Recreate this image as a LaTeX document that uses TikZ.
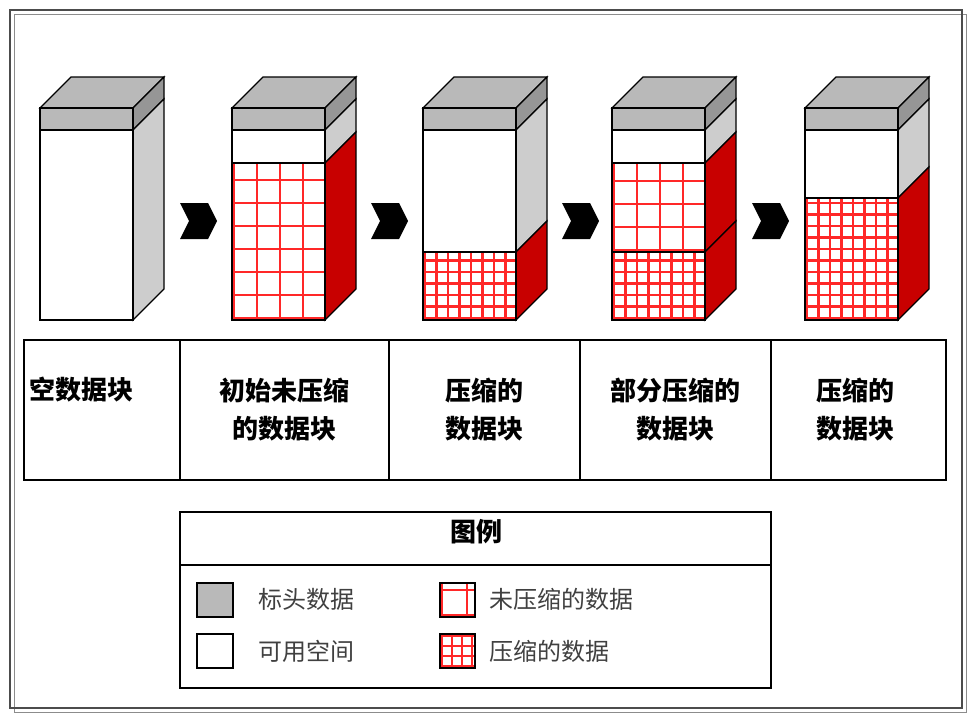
\documentclass[tikz,border=0pt]{standalone}
\usepackage{fontspec}
\setmainfont{Noto Sans CJK SC}
\definecolor{hdr}{RGB}{185,185,185}
\definecolor{hdrside}{RGB}{150,150,150}
\definecolor{sidegray}{RGB}{205,205,205}
\definecolor{sred}{RGB}{200,0,0}
\definecolor{gridred}{RGB}{255,40,40}
\newcommand\gridfill[6]{% x1 y1 x2 y2 step width
  \begin{scope}
  \clip (#1,#2) rectangle (#3,#4);
  \fill[white] (#1,#2) rectangle (#3,#4);
  \foreach \k in {0,...,20}{
    \draw[gridred,line width=#6] ({#1+2+\k*#5},#2) -- ({#1+2+\k*#5},#4);
    \draw[gridred,line width=#6] (#1,{#4-2-\k*#5}) -- (#3,{#4-2-\k*#5});
  }
  \end{scope}}
\newcommand\sideface[4]{% x y1 y2 color
  \filldraw[fill=#4,draw=black,line width=1.2] (#1+93,#2) -- (#1+124,#2-31) -- (#1+124,#3-31) -- (#1+93,#3) -- cycle;}
\newcommand\blk[3]{% x, white end, compressed start
  \def\bx{#1}
  \filldraw[fill=hdr,line width=1.2] (\bx,108) -- (\bx+31,77) -- (\bx+124,77) -- (\bx+93,108) -- cycle;
  \sideface{\bx}{108}{130}{hdrside}
  \fill[hdr] (\bx,108) rectangle (\bx+93,130);
  \sideface{\bx}{130}{#2}{sidegray}
  \ifdim #2pt<#3pt \sideface{\bx}{#2}{#3}{sred}\fi
  \ifdim #3pt<320pt \sideface{\bx}{#3}{320}{sred}\fi
  \ifdim #2pt<#3pt \gridfill{\bx}{#2}{\bx+93}{#3}{23}{2.8}\fi
  \ifdim #3pt<320pt \gridfill{\bx}{#3}{\bx+93}{320}{11.5}{2.3}\fi
  \draw[line width=1.2] (\bx,108) rectangle (\bx+93,320);
  \draw[line width=1.2] (\bx,130) -- (\bx+93,130);
  \ifdim #2pt<320pt \draw[line width=1.2] (\bx,#2) -- (\bx+93,#2);\fi
  \ifdim #3pt<320pt \draw[line width=1.2] (\bx,#3) -- (\bx+93,#3);\fi
}
\newcommand\chev[1]{\fill[black] (#1,203) -- (#1+28,203) -- (#1+37,221) -- (#1+28,239) -- (#1,239) -- (#1+9,221) -- cycle;}
\begin{document}
\begin{tikzpicture}[x=1pt,y=-1pt,
  lbl/.style={font=\bfseries\fontsize{26}{38}\selectfont,align=center,anchor=center},
  leg/.style={font=\fontsize{24}{28}\selectfont,anchor=west,text=black!75},
  box/.style={draw=black,line width=1.3}]
\useasboundingbox (0,0) rectangle (977,720);
\draw[black!45,line width=1] (14,14) rectangle (966,712);
\draw[black!70,line width=1.2] (10,10) rectangle (962,708);
\blk{40}{320}{320}
\blk{232}{163}{320}
\blk{423}{252}{252}
\blk{612}{163}{252}
\blk{805}{198}{198}
\chev{180}\chev{371}\chev{562}\chev{752}
% table
\draw[box] (24,340) rectangle (946,480);
\foreach \xx in {180,389,580,771} \draw[box] (\xx,340) -- (\xx,480);
\node[lbl,anchor=west] (l1) at (26,390) {空数据块};
\node[lbl] (l2) at (284.5,410) {初始未压缩\\的数据块};
\node[lbl] (l3) at (484.5,410) {压缩的\\数据块};
\node[lbl] (l4) at (675.5,410) {部分压缩的\\数据块};
\node[lbl] (l5) at (855,410) {压缩的\\数据块};
% legend
\draw[box] (180,512) rectangle (771,688);
\draw[box] (180,565) -- (771,565);
\node[lbl] (lt) at (476,532) {图例};
\filldraw[fill=hdr,line width=1.2] (197,583) rectangle (233,617);
\filldraw[fill=white,line width=1.2] (197,634) rectangle (233,668);
\gridfill{440}{583}{475}{617}{25}{2}
\draw[line width=1.2] (440,583) rectangle (475,617);
\gridfill{440}{634}{475}{668}{10}{2}
\draw[line width=1.2] (440,634) rectangle (475,668);
\node[leg] (g1) at (255,599) {标头数据};
\node[leg] (g2) at (255,651) {可用空间};
\node[leg] (g3) at (486,599) {未压缩的数据};
\node[leg] (g4) at (486,651) {压缩的数据};
\end{tikzpicture}
\end{document}
